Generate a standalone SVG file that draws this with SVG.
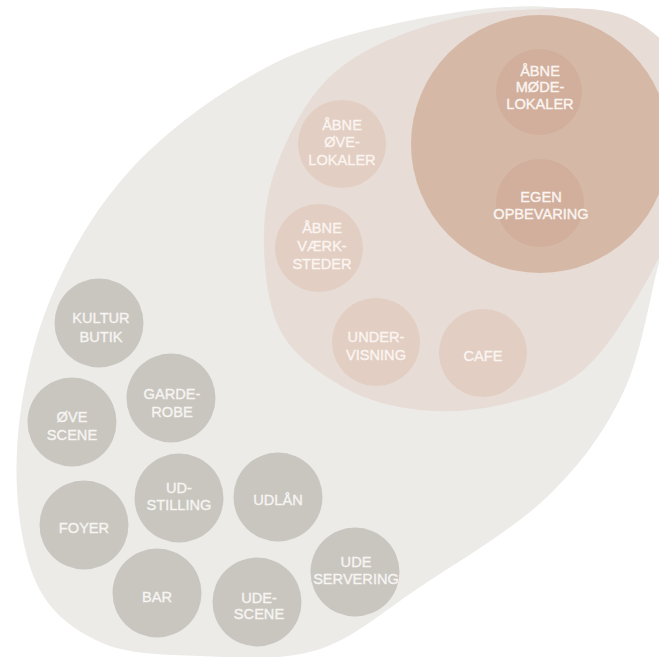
<svg xmlns="http://www.w3.org/2000/svg" width="659" height="657" viewBox="0 0 659 657">
<style>
text{font-family:"Liberation Sans",Arial,Helvetica,sans-serif;font-size:14.6px;text-anchor:middle;fill:#f7f5f2;stroke:#f7f5f2;stroke-width:0.35px}
.g circle{fill:#c9c6c0}
.p circle{fill:#e2cec2}
.p text,.d text{fill:#fbf5f1;stroke:#fbf5f1}
.d circle{fill:#d1af9c}
</style>
<rect width="659" height="657" fill="#ffffff"/>
<g id="outer-zone">
<path fill="#ecebe8" d="M17,450 C19.5,403.3 30.7,347.2 50,300 C69.3,252.8 96.8,205.8 133,167 C169.2,128.2 220.3,91.5 267,67 C313.7,42.5 364.2,29.8 413,20 C461.8,10.2 516.8,3 560,8 C603.2,13 651.2,23 672,50 C692.8,77 687.2,134.5 685,170 C682.8,205.5 669.3,225.8 659,263 C648.7,300.2 641.7,354 623,393 C604.3,432 580.8,464.7 547,497 C513.2,529.3 458.3,561.5 420,587 C381.7,612.5 353.7,638.5 317,650 C280.3,661.5 236.2,657.3 200,656 C163.8,654.7 127.5,654.7 100,642 C72.5,629.3 48.8,612 35,580 C21.2,548 14.5,496.7 17,450 Z"/>
</g>
<g id="middle-zone">
<path fill="#e7ddd6" d="M264,230 C264.8,199.2 273.2,171.3 285,145 C296.8,118.7 312.5,91.5 335,72 C357.5,52.5 389.2,38.3 420,28 C450.8,17.7 485,11.7 520,10 C555,8.3 601.7,4.7 630,18 C658.3,31.3 682.5,58 690,90 C697.5,122 683.3,176.2 675,210 C666.7,243.8 655.8,265.8 640,293 C624.2,320.2 603.3,354.3 580,373 C556.7,391.7 526.7,398.8 500,405 C473.3,411.2 445.8,412.8 420,410 C394.2,407.2 368.3,401.3 345,388 C321.7,374.7 293.5,356.3 280,330 C266.5,303.7 263.2,260.8 264,230 Z"/>
</g>
<g id="inner-zone">
<circle cx="540" cy="144" r="129" fill="#d6b8a7"/>
</g>
<g id="connectors"/>
<g id="abne-modelokaler" class="d">
<circle cx="539" cy="92" r="43"/>
<text x="540" y="75.5">ÅBNE</text>
<text x="540" y="92">MØDE-</text>
<text x="540" y="108.5">LOKALER</text>
</g>
<g id="egen-opbevaring" class="d">
<circle cx="540" cy="203" r="44"/>
<text x="541" y="201.5">EGEN</text>
<text x="541" y="218.5">OPBEVARING</text>
</g>
<g id="abne-ovelokaler" class="p">
<circle cx="342" cy="144" r="44"/>
<text x="342" y="129.5">ÅBNE</text>
<text x="342" y="147">ØVE-</text>
<text x="342" y="164.5">LOKALER</text>
</g>
<g id="abne-vaerksteder" class="p">
<circle cx="319" cy="248" r="44"/>
<text x="322" y="233">ÅBNE</text>
<text x="322" y="251">VÆRK-</text>
<text x="322" y="269">STEDER</text>
</g>
<g id="undervisning" class="p">
<circle cx="376" cy="342" r="44"/>
<text x="376" y="342">UNDER-</text>
<text x="376" y="360">VISNING</text>
</g>
<g id="cafe" class="p">
<circle cx="483" cy="353" r="44"/>
<text x="483" y="361">CAFE</text>
</g>
<g id="kulturbutik" class="g">
<circle cx="99" cy="323" r="44.5"/>
<text x="101" y="323">KULTUR</text>
<text x="101" y="342">BUTIK</text>
</g>
<g id="garderobe" class="g">
<circle cx="171" cy="398" r="44.5"/>
<text x="172" y="399">GARDE-</text>
<text x="172" y="416.5">ROBE</text>
</g>
<g id="ovescene" class="g">
<circle cx="72" cy="422" r="44.5"/>
<text x="72" y="421.5">ØVE</text>
<text x="72" y="439.5">SCENE</text>
</g>
<g id="udstilling" class="g">
<circle cx="179" cy="498" r="44.5"/>
<text x="179" y="493">UD-</text>
<text x="179" y="510">STILLING</text>
</g>
<g id="udlan" class="g">
<circle cx="278" cy="497" r="44.5"/>
<text x="278" y="505">UDLÅN</text>
</g>
<g id="foyer" class="g">
<circle cx="84" cy="525" r="44.5"/>
<text x="84" y="533">FOYER</text>
</g>
<g id="bar" class="g">
<circle cx="157" cy="593" r="44.5"/>
<text x="157" y="601.5">BAR</text>
</g>
<g id="udescene" class="g">
<circle cx="257" cy="602" r="44.5"/>
<text x="259" y="603">UDE-</text>
<text x="259" y="619">SCENE</text>
</g>
<g id="udeservering" class="g">
<circle cx="355" cy="572" r="44.5"/>
<text x="356" y="567">UDE</text>
<text x="356" y="584">SERVERING</text>
</g>
</svg>
